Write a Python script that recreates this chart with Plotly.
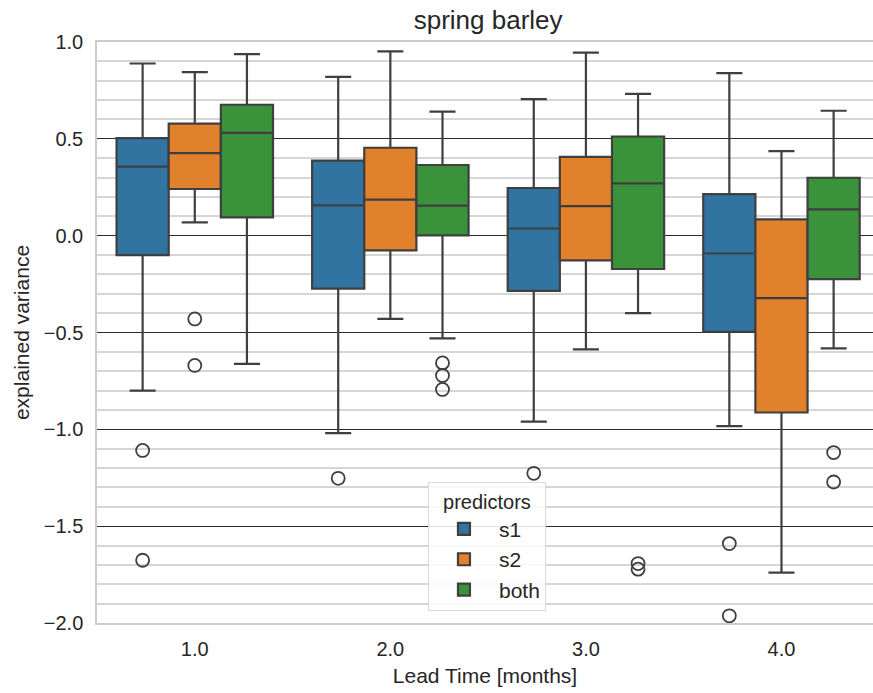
import plotly.graph_objects as go

lead_labels = ["1.0", "2.0", "3.0", "4.0"]
predictors = ["s1", "s2", "both"]
colors = {"s1": "#3274a1", "s2": "#e1812c", "both": "#3a923a"}

# precomputed box statistics per predictor, one value per lead time
q1 = {
    "s1":   [-0.10, -0.273, -0.285, -0.496],
    "s2":   [0.241, -0.076, -0.128, -0.913],
    "both": [0.094, 0.002, -0.172, -0.224],
}
median = {
    "s1":   [0.356, 0.156, 0.037, -0.092],
    "s2":   [0.426, 0.186, 0.153, -0.323],
    "both": [0.531, 0.155, 0.270, 0.136],
}
q3 = {
    "s1":   [0.504, 0.387, 0.246, 0.215],
    "s2":   [0.579, 0.454, 0.407, 0.084],
    "both": [0.676, 0.365, 0.512, 0.299],
}
lower = {
    "s1":   [-0.80, -1.02, -0.96, -0.983],
    "s2":   [0.069, -0.43, -0.587, -1.74],
    "both": [-0.662, -0.53, -0.40, -0.582],
}
upper = {
    "s1":   [0.889, 0.82, 0.705, 0.839],
    "s2":   [0.844, 0.952, 0.945, 0.437],
    "both": [0.937, 0.641, 0.732, 0.645],
}
# outliers: (lead index, value)
outliers = {
    "s1":   [(0, -1.109), (0, -1.676), (1, -1.253), (2, -1.227), (3, -1.59), (3, -1.963)],
    "s2":   [(0, -0.43), (0, -0.67)],
    "both": [(1, -0.657), (1, -0.722), (1, -0.794), (2, -1.693), (2, -1.722), (3, -1.12), (3, -1.272)],
}

group_width = 0.8
n = len(predictors)
bw = group_width / n
edge = "#3f3f3f"

fig = go.Figure()
for k, p in enumerate(predictors):
    off = -group_width / 2 + bw * (k + 0.5)
    xs = [i + off for i in range(len(lead_labels))]
    fig.add_trace(go.Box(
        name=p, x=xs, q1=q1[p], median=median[p], q3=q3[p],
        lowerfence=lower[p], upperfence=upper[p],
        width=bw, whiskerwidth=0.5, boxpoints=False,
        fillcolor=colors[p], line=dict(color=edge, width=2.2),
        showlegend=True,
    ))
for k, p in enumerate(predictors):
    off = -group_width / 2 + bw * (k + 0.5)
    fig.add_trace(go.Scatter(
        x=[i + off for i, v in outliers[p]], y=[v for i, v in outliers[p]],
        mode="markers", showlegend=False, hoverinfo="y",
        marker=dict(symbol="circle-open", size=13, color=edge, line=dict(width=1.8, color=edge)),
    ))

font = "Liberation Sans, Arial, sans-serif"
fig.update_layout(
    width=873, height=693,
    margin=dict(l=97, r=0, t=42, b=70),
    paper_bgcolor="white", plot_bgcolor="white",
    font=dict(family=font, size=20, color="#262626"),
    boxmode="overlay",
    title=dict(text="spring barley", x=0.504, xref="paper", xanchor="center",
               y=1 - 20 / 693, yref="container", yanchor="middle",
               font=dict(size=26, color="#262626")),
    legend=dict(
        title=dict(text="predictors", side="top center", font=dict(size=20)),
        x=0.4265, y=0.243, xanchor="left", yanchor="top",
        bgcolor="rgba(255,255,255,0.85)", bordercolor="#d9d9d9", borderwidth=1,
        font=dict(size=21), itemwidth=60,
    ),
    xaxis=dict(
        range=[-0.5, 3.468], tickvals=list(range(len(lead_labels))), ticktext=lead_labels,
        showgrid=False, zeroline=False, showline=True, linecolor="#cccccc", linewidth=1.5,
        mirror=True, ticks="outside", ticklen=7, tickcolor="rgba(0,0,0,0)",
        title=dict(text="Lead Time [months]", standoff=10, font=dict(size=21)),
    ),
    yaxis=dict(
        range=[-2, 1], dtick=0.5, tick0=0, tickformat=".1f",
        showgrid=True, gridcolor="#2b2b2b", gridwidth=1,
        minor=dict(dtick=0.1, showgrid=True, gridcolor="#d6d6d6", gridwidth=1.5),
        zeroline=False, showline=True, linecolor="#cccccc", linewidth=1.5,
        ticks="outside", ticklen=8, tickcolor="rgba(0,0,0,0)",
        title=dict(text="explained variance", standoff=8, font=dict(size=21)),
    ),
)
fig.write_html("out.html")
